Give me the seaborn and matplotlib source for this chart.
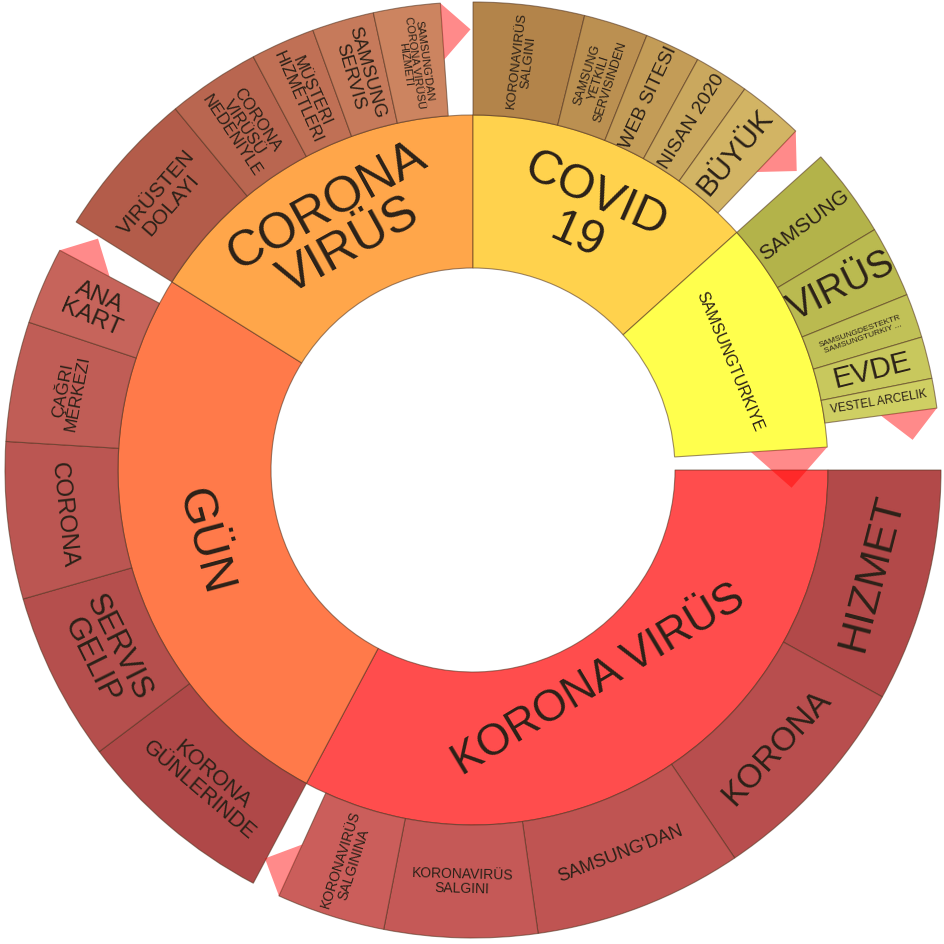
import matplotlib
import matplotlib.pyplot as plt
import numpy as np
import seaborn as sns
from matplotlib.patches import Wedge, Polygon

matplotlib.use('Agg')

# inner ring, clockwise starting at 3 o'clock
parents = ["KORONA VIRÜS", "GÜN", "CORONA\nVIRÜS", "COVID\n19", "SAMSUNGTURKIYE"]
parent_values = [118, 94, 58, 48, 38.3]
root_rest = 3.7

korona_kids = ["HIZMET", "KORONA", "SAMSUNG'DAN", "KORONAVIRÜS\nSALGINI", "KORONAVIRÜS\nSALGININA"]
korona_vals = [29, 27, 26, 19, 13.5]

gun_kids = ["KORONA\nGÜNLERINDE", "SERVIS\nGELIP", "CORONA", "ÇAĞRI\nMERKEZI", "ANA\nKART"]
gun_vals = [25, 21, 19.5, 14.9, 9.6]

corona_kids = ["VIRÜSTEN\nDOLAYI", "CORONA\nVIRÜSÜ\nNEDENIYLE", "MÜŞTERI\nHIZMETLERI",
               "SAMSUNG\nSERVIS", "SAMSUNG'DAN\nCORONA VIRÜSÜ\nHIZMETI"]
corona_vals = [18.5, 11.5, 8, 7.7, 8.3]

covid_kids = ["KORONAVIRÜS\nSALGINI", "SAMSUNG\nYETKILI\nSERVISINDEN", "WEB SITESI", "NISAN 2020", "BÜYÜK"]
covid_vals = [13.8, 8, 6.9, 6.8, 8.1]

samsung_kids = ["SAMSUNG", "VIRÜS", "SAMSUNGDESTEKTR\nSAMSUNGTURKIY ...", "EVDE", "VESTEL ARCELIK"]
samsung_vals = [11.1, 8.9, 5.5, 5.2, 3.7]

kids = [korona_kids, gun_kids, corona_kids, covid_kids, samsung_kids]
kid_vals = [korona_vals, gun_vals, corona_vals, covid_vals, samsung_vals]

# styling
parent_colors = ["#ff4d4d", "#ff7a4a", "#ffa64a", "#ffd24d", "#ffff4d"]
kid_shades = [("#b24949", "#cb5e5b"), ("#af4848", "#c6645b"), ("#b35c4a", "#cc8460"),
              ("#b3844a", "#d2b464"), ("#b3b34a", "#cfcf63")]
parent_sizes = [31.5, 35, 36, 34.5, 11.5]
parent_r = [245, None, None, None, None]
kid_sizes = [[31, 24, 13, 10, 10], [15.5, 22.5, 17.5, 12.5, 17.5], [15, 12, 12, 13.5, 8],
             [9.5, 9, 14, 14, 21.5], [15, 27, 6, 21, 8.5]]
kid_orient = [["t", "t", "t", "t", "r"], ["t", "t", "t", "t", "r"], ["t", "r", "r", "r", "r"],
              ["r", "r", "r", "r", "r"], ["r", "r", "r", "r", "r"]]

CX, CY = 473, 474
R0, R1, R2 = 202, 355, 468
TXT = "#2b2118"
EDGE = (0.3, 0.18, 0.1, 0.55)

sns.set_theme(style="white")
plt.rcParams['font.family'] = ['Liberation Sans', 'DejaVu Sans']


def rotation(theta, mode):
    rot = -theta if mode == "t" else 90 - theta
    rot = (rot + 180) % 360 - 180
    if rot > 90:
        rot -= 180
    if rot < -90:
        rot += 180
    return rot


def point(r, theta):
    t = np.radians(theta)
    return CX + r * np.sin(t), CY + r * np.cos(t)


def wedge(ax, a0, a1, r_in, r_out, color):
    ax.add_patch(Wedge((CX, CY), r_out, 90 - a1, 90 - a0, width=r_out - r_in,
                       facecolor=color, edgecolor=EDGE, linewidth=0.8, zorder=2))


def marker(ax, theta, r_in, r_out):
    # arrow-like tip showing the part that is left over
    rb1 = (r_in + r_out) / 2
    h = (r_out - rb1) / 2
    t = np.radians(theta)
    tang = np.array([np.cos(t), -np.sin(t)])
    p1 = np.array(point(rb1, theta))
    p2 = np.array(point(r_out, theta))
    tip = (p1 + p2) / 2 + h * tang
    ax.add_patch(Polygon([p1, p2, tip], closed=True, facecolor="#ff0000",
                         alpha=0.46, edgecolor="none", zorder=3))


def label(ax, text, theta, r, size, mode):
    x, y = point(r, theta)
    ax.text(x, y, text, rotation=rotation(theta, mode), rotation_mode="anchor",
            ha="center", va="center", multialignment="center", fontsize=size,
            color=TXT, linespacing=1.0, zorder=4)


fig = plt.figure(figsize=(9.45, 9.44), dpi=100)
fig.patch.set_facecolor("#fff")
ax = fig.add_axes([0, 0, 1, 1])
ax.set_xlim(0, 945)
ax.set_ylim(0, 944)
ax.axis("off")

scale = 360 / (sum(parent_values) + root_rest)
start = 90.0
for i, name in enumerate(parents):
    span = parent_values[i] * scale
    wedge(ax, start, start + span, R0, R1, parent_colors[i])
    r_txt = parent_r[i] or (R0 + R1) / 2
    label(ax, name, start + span / 2, r_txt, parent_sizes[i], "t")

    shades = sns.blend_palette(list(kid_shades[i]), len(kids[i]))
    a = start
    for j, kid in enumerate(kids[i]):
        w = kid_vals[i][j] * scale
        wedge(ax, a, a + w, R1, R2, shades[j])
        label(ax, kid, a + w / 2, (R1 + R2) / 2, kid_sizes[i][j], kid_orient[i][j])
        a += w
    marker(ax, a, R1, R2)
    start += span

marker(ax, start, R0, R1)

fig.savefig("out.png", dpi=100, facecolor="#fff")
